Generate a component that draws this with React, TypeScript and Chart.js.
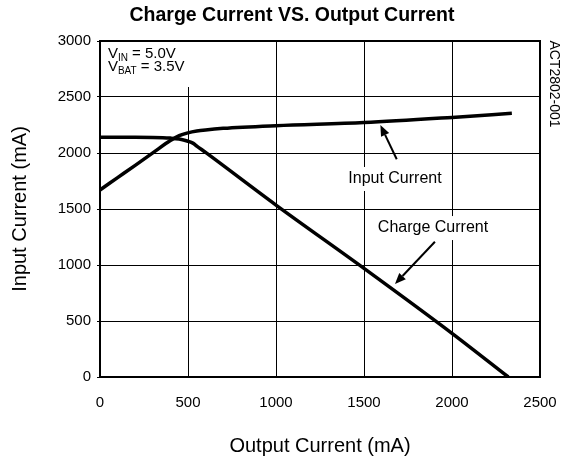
import React, { useEffect, useRef } from "react";
import { Chart, registerables } from "chart.js";

Chart.register(...registerables);

// ---- data ----
const inputX = [0, 100, 200, 300, 400, 450, 500, 550, 600, 700, 1000, 1500, 2000, 2340];
const inputY = [1670, 1780, 1890, 2001, 2111, 2155, 2180, 2196, 2206, 2220, 2244, 2272, 2318, 2354];
const chargeX = [0, 100, 200, 300, 400, 450, 500, 530, 550, 600, 1000, 1500, 2000, 2320];
const chargeY = [2140, 2140, 2140, 2139, 2133, 2125, 2105, 2086, 2062, 2005, 1535, 970, 390, 0];

const xTicks = [0, 500, 1000, 1500, 2000, 2500];
const yTicks = [0, 500, 1000, 1500, 2000, 2500, 3000];

const titleText = "Charge Current VS. Output Current";
const xTitle = "Output Current (mA)";
const yTitle = "Input Current (mA)";
const codeText = "ACT2802-001";

// labels (data coords: label centre)
const labelTexts = ["Input Current", "Charge Current"];
const labelX = [1676, 1892];
const labelY = [1768, 1330];
// arrows (data coords)
const arrowFromX = [1686, 1903];
const arrowFromY = [1944, 1208];
const arrowToX = [1593, 1676];
const arrowToY = [2250, 830];

// conditions (main letter, subscript, rest) at data coords (left baseline)
const condMain = ["V", "V"];
const condSub = ["IN", "BAT"];
const condRest = [" = 5.0V", " = 3.5V"];
const condX = [45, 45];
const condY = [2844, 2732];

const FONT = '"Liberation Sans", Arial, Helvetica, sans-serif';

const annotPlugin = {
  id: "annot",
  beforeDatasetsDraw(chart: any) {
    const { ctx, scales, chartArea } = chart;
    const xs = scales.x;
    const ys = scales.y;
    ctx.save();
    // title
    ctx.fillStyle = "#000";
    ctx.font = "bold 19.5px " + FONT;
    ctx.textAlign = "center";
    ctx.textBaseline = "middle";
    ctx.fillText(titleText, chartArea.left + 192, 16);
    // white box behind conditions
    const cx0 = xs.getPixelForValue(condX[0]);
    const cyBot = ys.getPixelForValue(condY[1]);
    ctx.fillStyle = "#fff";
    ctx.fillRect(chartArea.left + 1, chartArea.top + 1, cx0 - chartArea.left + 86, cyBot - chartArea.top + 15);
    // condition texts
    ctx.fillStyle = "#000";
    ctx.textBaseline = "alphabetic";
    ctx.textAlign = "left";
    for (let i = 0; i < condMain.length; i++) {
      let px = xs.getPixelForValue(condX[i]);
      const py = ys.getPixelForValue(condY[i]);
      ctx.font = "15px " + FONT;
      ctx.fillText(condMain[i], px, py);
      px += ctx.measureText(condMain[i]).width;
      ctx.font = "10px " + FONT;
      ctx.fillText(condSub[i], px, py + 2.5);
      px += ctx.measureText(condSub[i]).width;
      ctx.font = "15px " + FONT;
      ctx.fillText(condRest[i], px, py);
    }
    // labels
    ctx.font = "16px " + FONT;
    ctx.textAlign = "center";
    ctx.textBaseline = "middle";
    for (let i = 0; i < labelTexts.length; i++) {
      const px = xs.getPixelForValue(labelX[i]);
      const py = ys.getPixelForValue(labelY[i]);
      const w = ctx.measureText(labelTexts[i]).width;
      ctx.fillStyle = "#fff";
      ctx.fillRect(px - w / 2 - 3, py - 12, w + 6, 24);
      ctx.fillStyle = "#000";
      ctx.fillText(labelTexts[i], px, py);
    }
    // plot frame
    ctx.strokeStyle = "#000";
    ctx.lineWidth = 2;
    ctx.strokeRect(chartArea.left, chartArea.top, chartArea.right - chartArea.left, chartArea.bottom - chartArea.top);
    // side code
    ctx.save();
    ctx.translate(chartArea.right + 14, chartArea.top + 43);
    ctx.rotate(Math.PI / 2);
    ctx.font = "14px " + FONT;
    ctx.textAlign = "center";
    ctx.textBaseline = "middle";
    ctx.fillStyle = "#000";
    ctx.fillText(codeText, 0, 0);
    ctx.restore();
    ctx.restore();
  },
  afterDatasetsDraw(chart: any) {
    const { ctx, scales } = chart;
    const xs = scales.x;
    const ys = scales.y;
    ctx.save();
    ctx.strokeStyle = "#000";
    ctx.fillStyle = "#000";
    ctx.lineWidth = 2;
    for (let i = 0; i < arrowFromX.length; i++) {
      const x1 = xs.getPixelForValue(arrowFromX[i]);
      const y1 = ys.getPixelForValue(arrowFromY[i]);
      const x2 = xs.getPixelForValue(arrowToX[i]);
      const y2 = ys.getPixelForValue(arrowToY[i]);
      const ang = Math.atan2(y2 - y1, x2 - x1);
      const hl = 11;
      const hw = 4.5;
      const bx = x2 - hl * Math.cos(ang);
      const by = y2 - hl * Math.sin(ang);
      ctx.beginPath();
      ctx.moveTo(x1, y1);
      ctx.lineTo(bx, by);
      ctx.stroke();
      ctx.beginPath();
      ctx.moveTo(x2, y2);
      ctx.lineTo(bx + hw * Math.sin(ang), by - hw * Math.cos(ang));
      ctx.lineTo(bx - hw * Math.sin(ang), by + hw * Math.cos(ang));
      ctx.closePath();
      ctx.fill();
    }
    ctx.restore();
  },
};

export default function App() {
  const ref = useRef<HTMLCanvasElement>(null);
  useEffect(() => {
    document.body.style.margin = "0";
    const canvas = ref.current!;
    Chart.defaults.font.family = FONT;
    Chart.defaults.color = "#000";
    const chart = new Chart(canvas, {
      type: "line",
      data: {
        datasets: [
          {
            label: "Input Current",
            data: inputX.map((x, i) => ({ x, y: inputY[i] })),
            borderColor: "#000",
            borderWidth: 3.5,
            pointRadius: 0,
            cubicInterpolationMode: "monotone",
            fill: false,
          },
          {
            label: "Charge Current",
            data: chargeX.map((x, i) => ({ x, y: chargeY[i] })),
            borderColor: "#000",
            borderWidth: 3.5,
            pointRadius: 0,
            cubicInterpolationMode: "monotone",
            fill: false,
          },
        ],
      },
      options: {
        responsive: false,
        animation: false,
        layout: { padding: { top: 41, right: 30, left: 0, bottom: 0 } },
        plugins: {
          legend: { display: false },
          tooltip: { enabled: false },
          title: { display: false },
        },
        scales: {
          x: {
            type: "linear",
            min: 0,
            max: 2500,
            afterBuildTicks: (s: any) => {
              s.ticks = xTicks.map((v) => ({ value: v }));
            },
            afterFit: (s: any) => {
              s.height = 84;
            },
            grid: { color: "#000", lineWidth: 1, drawTicks: true, tickLength: 14, tickColor: "rgba(0,0,0,0)" },
            border: { display: true, color: "#000", width: 2 },
            ticks: {
              color: "#000",
              font: { size: 15, family: FONT },
              padding: 3,
              maxRotation: 0,
              callback: (v: any) => String(v),
            },
            title: {
              display: true,
              text: xTitle,
              color: "#000",
              font: { size: 20, family: FONT },
              padding: { top: 0, bottom: 3 },
            },
          },
          y: {
            type: "linear",
            min: 0,
            max: 3000,
            afterBuildTicks: (s: any) => {
              s.ticks = yTicks.map((v) => ({ value: v }));
            },
            afterFit: (s: any) => {
              s.width = 100;
            },
            grid: { color: "#000", lineWidth: 1, drawTicks: true, tickLength: 3 },
            border: { display: true, color: "#000", width: 2 },
            ticks: {
              color: "#000",
              font: { size: 15, family: FONT },
              padding: 6,
              callback: (v: any) => String(v),
            },
            title: {
              display: true,
              text: yTitle,
              color: "#000",
              font: { size: 20, family: FONT },
              padding: { top: 8, bottom: 0 },
            },
          },
        },
      },
      plugins: [annotPlugin],
    });
    return () => chart.destroy();
  }, []);
  return <canvas ref={ref} width={570} height={461} style={{ display: "block" }} />;
}
